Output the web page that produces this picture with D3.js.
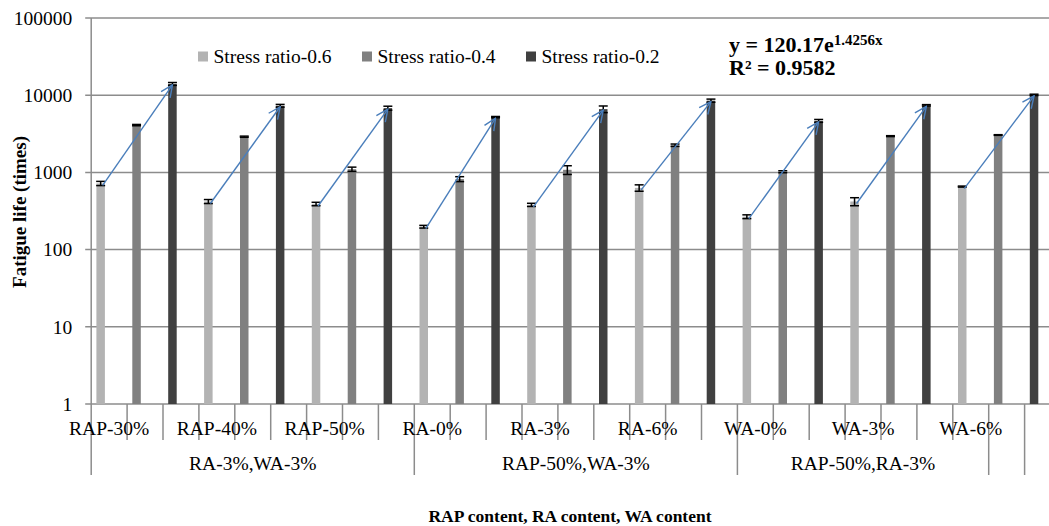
<!DOCTYPE html>
<html lang="en">
<head>
    <meta charset="UTF-8">
    <title>Fatigue life by stress ratio</title>
    <script src="https://d3js.org/d3.v7.min.js"></script>
    <style>
        body { margin: 0; background: #fff; }
        text { font-family: "Liberation Serif", "Times New Roman", serif; fill: #000; }
    </style>
</head>
<body>

    <div id="chart"></div>

    <script>
        const width = 1049, height = 526;

        // categories and groups
        const categories = ["RAP-30%", "RAP-40%", "RAP-50%", "RA-0%", "RA-3%", "RA-6%", "WA-0%", "WA-3%", "WA-6%"];
        const groups = ["RA-3%,WA-3%", "RAP-50%,WA-3%", "RAP-50%,RA-3%"];
        const seriesNames = ["Stress ratio-0.6", "Stress ratio-0.4", "Stress ratio-0.2"];
        const yTicks = [1, 10, 100, 1000, 10000, 100000];

        // fatigue life (times)
        const ratio06 = [720, 420, 390, 198, 380, 630, 267, 420, 655];
        const ratio04 = [4100, 2900, 1100, 820, 1080, 2250, 1020, 2950, 3050];
        const ratio02 = [14000, 7300, 6800, 5200, 6600, 8500, 4650, 7400, 10100];

        // error bar half-heights
        const err06 = [45, 25, 20, 8, 18, 60, 15, 50, 10];
        const err04 = [80, 50, 70, 60, 140, 80, 30, 40, 30];
        const err02 = [600, 300, 400, 100, 650, 400, 200, 150, 200];

        const colors = ["#b3b3b3", "#808080", "#404040"];
        const arrowColor = "#4a7ebb";

        // the excel axis: one slot per bar, 27 slots
        const nSlots = categories.length * 3;
        const groupLines = [0, 9, 18, 25, 26];   // slot lines running into the group row
        const groupSpans = [[0, 9], [9, 18], [18, 25]];

        const plotLeft = 91.2, slotW = 35.9, plotTop = 18, plotBottom = 404;

        const svg = d3.select("#chart")
                      .append("svg")
                      .attr("width", width)
                      .attr("height", height)
                      .style("background", "#fff");

        const x = d3.scaleBand()
                    .domain(d3.range(nSlots))
                    .range([plotLeft, plotLeft + nSlots * slotW])
                    .padding(0);

        const y = d3.scaleLog()
                    .domain([1, 100000])
                    .range([plotBottom, plotTop]);

        // gridlines
        svg.append("g")
           .selectAll("line")
           .data(yTicks)
           .join("line")
           .attr("x1", plotLeft - 6)
           .attr("x2", plotLeft + nSlots * slotW)
           .attr("y1", d => y(d))
           .attr("y2", d => y(d))
           .attr("stroke", "#8c8c8c")
           .attr("stroke-width", 1.5);

        // y axis
        const yAxis = d3.axisLeft(y)
                        .tickValues(yTicks)
                        .tickFormat(d3.format("d"))
                        .tickSize(0)
                        .tickPadding(19);
        const yg = svg.append("g")
                      .attr("transform", `translate(${plotLeft},0)`)
                      .call(yAxis);
        yg.select(".domain").remove();
        yg.selectAll("text")
          .style("font-family", "Liberation Serif")
          .style("font-size", "19.5px");

        svg.append("line")
           .attr("x1", plotLeft).attr("x2", plotLeft)
           .attr("y1", plotTop).attr("y2", 475)
           .attr("stroke", "#8c8c8c")
           .attr("stroke-width", 1.5);

        // slot tick lines below the axis
        svg.append("g")
           .selectAll("line")
           .data(d3.range(1, nSlots))
           .join("line")
           .attr("x1", d => x(d)).attr("x2", d => x(d))
           .attr("y1", plotBottom)
           .attr("y2", d => groupLines.includes(d) ? 475 : 440)
           .attr("stroke", "#8c8c8c")
           .attr("stroke-width", 1.5);

        // category labels
        svg.append("g")
           .selectAll("text")
           .data(categories)
           .join("text")
           .attr("x", (d, i) => x(i * 3) + slotW / 2)
           .attr("y", 435)
           .attr("text-anchor", "middle")
           .style("font-size", "19.5px")
           .text(d => d);

        // group labels
        svg.append("g")
           .selectAll("text")
           .data(groups)
           .join("text")
           .attr("x", (d, i) => (x(groupSpans[i][0]) + x(groupSpans[i][1])) / 2)
           .attr("y", 470)
           .attr("text-anchor", "middle")
           .style("font-size", "19.5px")
           .text(d => d);

        // bars
        const series = [ratio06, ratio04, ratio02];
        const errs = [err06, err04, err02];
        const barW = 8.5, barOff = 5.2;

        const rows = [];
        series.forEach((vals, s) => {
            vals.forEach((v, c) => {
                rows.push({ s: s, c: c, slot: c * 3 + s, v: v, e: errs[s][c] });
            });
        });

        svg.append("g")
           .selectAll("rect")
           .data(rows)
           .join("rect")
           .attr("x", d => x(d.slot) + barOff)
           .attr("y", d => y(d.v))
           .attr("width", barW)
           .attr("height", d => plotBottom - y(d.v))
           .attr("fill", d => colors[d.s]);

        // error bars
        const eg = svg.append("g")
                      .attr("stroke", "#000")
                      .attr("stroke-width", 1.5);
        rows.forEach(d => {
            const cx = x(d.slot) + barOff + barW / 2;
            const y1 = y(d.v + d.e), y2 = y(Math.max(d.v - d.e, 1));
            eg.append("line").attr("x1", cx).attr("x2", cx).attr("y1", y1).attr("y2", y2);
            eg.append("line").attr("x1", cx - 4.5).attr("x2", cx + 4.5).attr("y1", y1).attr("y2", y1);
            eg.append("line").attr("x1", cx - 4.5).attr("x2", cx + 4.5).attr("y1", y2).attr("y2", y2);
        });

        // trend arrows, light bar to dark bar in each category
        svg.append("defs")
           .append("marker")
           .attr("id", "arrow")
           .attr("viewBox", "0 0 14 14")
           .attr("refX", 13)
           .attr("refY", 7)
           .attr("markerWidth", 14)
           .attr("markerHeight", 14)
           .attr("markerUnits", "userSpaceOnUse")
           .attr("orient", "auto")
           .append("path")
           .attr("d", "M1,1.5 L13,7 L1,12.5")
           .attr("fill", "none")
           .attr("stroke", arrowColor)
           .attr("stroke-width", 1.4);

        svg.append("g")
           .selectAll("line")
           .data(categories.map((c, i) => i))
           .join("line")
           .attr("x1", i => x(i * 3) + barOff + barW / 2 + 2)
           .attr("y1", i => y(ratio06[i]) + 2)
           .attr("x2", i => x(i * 3 + 2) + barOff + barW / 2)
           .attr("y2", i => y(ratio02[i]) + 1)
           .attr("stroke", arrowColor)
           .attr("stroke-width", 1.4)
           .attr("marker-end", "url(#arrow)");

        // legend
        const legendX = [198, 362, 526];
        const lg = svg.append("g");
        seriesNames.forEach((name, i) => {
            lg.append("rect")
              .attr("x", legendX[i]).attr("y", 51.5)
              .attr("width", 10).attr("height", 10)
              .attr("fill", colors[i]);
            lg.append("text")
              .attr("x", legendX[i] + 15.5).attr("y", 63)
              .style("font-size", "19.5px")
              .text(name);
        });

        // fitted equation
        const eq = svg.append("text")
                      .attr("x", 729).attr("y", 51.5)
                      .style("font-size", "22px")
                      .style("font-weight", "bold");
        eq.append("tspan").text("y = 120.17e");
        eq.append("tspan").attr("dy", -7).style("font-size", "15px").text("1.4256x");
        svg.append("text")
           .attr("x", 729).attr("y", 75)
           .style("font-size", "22px")
           .style("font-weight", "bold")
           .text("R² = 0.9582");

        // axis titles
        svg.append("text")
           .attr("transform", "translate(25.5,212) rotate(-90)")
           .attr("text-anchor", "middle")
           .style("font-size", "19px")
           .style("font-weight", "bold")
           .text("Fatigue life (times)");

        svg.append("text")
           .attr("x", 570).attr("y", 522)
           .attr("text-anchor", "middle")
           .style("font-size", "17.5px")
           .style("font-weight", "bold")
           .text("RAP content, RA content, WA content");
    </script>

</body>
</html>
